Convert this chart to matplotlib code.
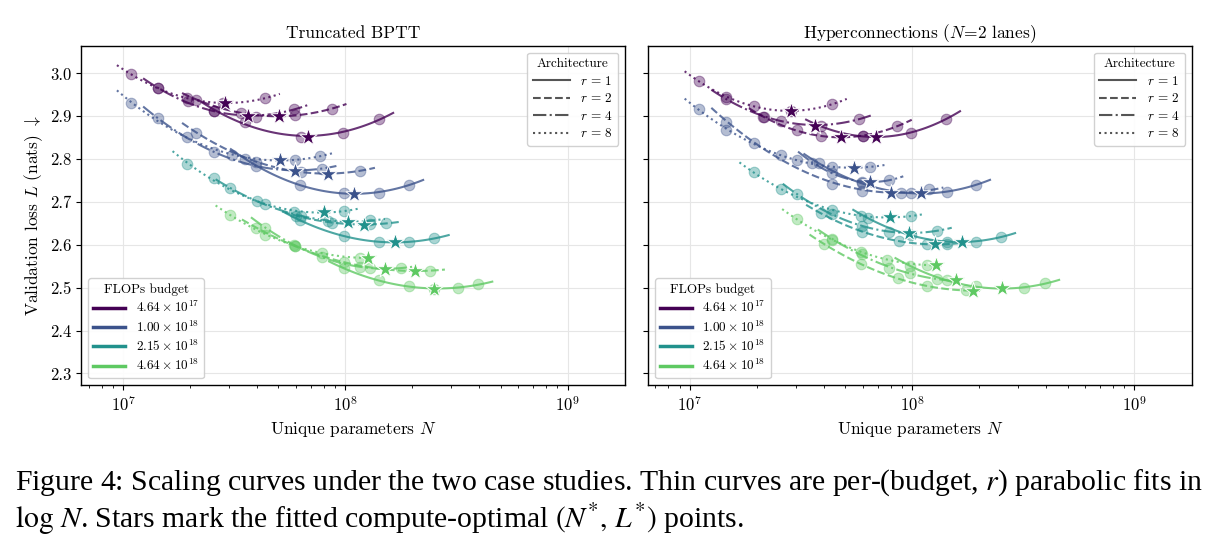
import numpy as np
import matplotlib
matplotlib.use("Agg")
import matplotlib.pyplot as plt
from matplotlib.lines import Line2D
from matplotlib.ticker import FormatStrFormatter

plt.rcParams['font.family'] = 'cmr10'
plt.rcParams['mathtext.fontset'] = 'cm'
plt.rcParams['axes.formatter.use_mathtext'] = True
plt.rcParams['axes.linewidth'] = 1.0

# DATA (N in millions of unique parameters, L = validation loss in nats)
budgets = ["$4.64\\times10^{17}$", "$1.00\\times10^{18}$", "$2.15\\times10^{18}$", "$4.64\\times10^{18}$"]
colors = ["#440154", "#3b528b", "#21918c", "#5ec962"]
r_values = [1, 2, 4, 8]
styles = ['-', '--', '-.', ':']

# Truncated BPTT: one list per budget
bptt_N_r1 = [[25.7, 35.5, 63.1, 97.7, 141.3], [35.5, 62.7, 98.2, 141.3, 192.8],
             [62.7, 98.2, 141.3, 192.8, 251.2], [98.2, 141.3, 192.8, 251.2, 320.6, 394.5]]
bptt_L_r1 = [[2.912, 2.887, 2.852, 2.862, 2.893], [2.800, 2.740, 2.720, 2.722, 2.740],
             [2.657, 2.621, 2.607, 2.607, 2.615], [2.545, 2.518, 2.503, 2.498, 2.499, 2.508]]
bptt_N_r2 = [[21.4, 33.9, 59.6, 87.1], [21.4, 39.8, 63.1, 117.0],
             [60.3, 87.1, 129.7, 153.1], [39.8, 59.6, 98.2, 129.7, 241.5]]
bptt_L_r2 = [[2.939, 2.908, 2.902, 2.918], [2.862, 2.794, 2.770, 2.773],
             [2.668, 2.652, 2.648, 2.650], [2.640, 2.597, 2.560, 2.547, 2.540]]
bptt_N_r4 = [[14.3, 19.5, 25.7, 39.8, 58.5], [14.3, 25.6, 39.8, 78.5],
             [30.3, 43.7, 63.1, 83.2, 129.7], [43.7, 59.6, 78.5, 117.0, 177.8]]
bptt_L_r4 = [[2.965, 2.935, 2.912, 2.899, 2.917], [2.896, 2.817, 2.784, 2.778],
             [2.732, 2.696, 2.667, 2.656, 2.657], [2.640, 2.598, 2.572, 2.548, 2.546]]
bptt_N_r8 = [[10.9, 14.3, 19.4, 28.2, 43.7], [10.9, 19.4, 30.9, 59.6, 77.1],
             [19.4, 25.6, 40.0, 58.5, 98.2], [30.3, 43.7, 58.5, 78.5, 117.0]]
bptt_L_r8 = [[2.998, 2.965, 2.942, 2.932, 2.942], [2.932, 2.852, 2.810, 2.797, 2.808],
             [2.789, 2.755, 2.702, 2.677, 2.680], [2.670, 2.624, 2.600, 2.580, 2.570]]
# stars: per budget, for r = 1, 2, 4, 8
bptt_star_N = [[67.9, 50.1, 36.6, 28.8], [108.9, 83.2, 59.6, 50.9],
               [166.7, 121.1, 102.3, 80.4], [251.8, 206.5, 151.4, 126.2]]
bptt_star_L = [[2.852, 2.900, 2.900, 2.931], [2.719, 2.765, 2.772, 2.798],
               [2.606, 2.646, 2.654, 2.676], [2.497, 2.539, 2.544, 2.569]]

# Hyperconnections (N=2 lanes)
hyp_N_r1 = [[38.7, 60.3, 98.4, 141.3], [38.0, 59.7, 98.4, 142.9, 192.8],
            [63.1, 98.4, 143.9, 192.8, 250.0], [97.7, 143.9, 192.8, 318.4, 394.5]]
hyp_L_r1 = [[2.877, 2.853, 2.862, 2.893], [2.790, 2.744, 2.720, 2.724, 2.740],
            [2.662, 2.624, 2.607, 2.607, 2.619], [2.551, 2.517, 2.503, 2.500, 2.510]]
hyp_N_r2 = [[21.4, 30.2, 38.7, 60.3, 85.7], [14.5, 25.6, 43.7, 59.7, 88.7, 118.9],
            [38.7, 59.7, 87.1, 117.0, 143.9], [40.1, 59.0, 86.3, 117.0, 173.8]]
hyp_L_r2 = [[2.899, 2.867, 2.854, 2.855, 2.877], [2.886, 2.810, 2.741, 2.725, 2.721, 2.730],
            [2.674, 2.631, 2.609, 2.601, 2.602], [2.602, 2.555, 2.522, 2.503, 2.494]]
hyp_N_r4 = [[14.5, 21.5, 25.6, 57.5], [35.6, 43.7, 59.7, 78.5],
            [30.4, 43.7, 59.7, 78.5, 129.7], [43.7, 59.7, 78.5, 97.7, 129.7]]
hyp_L_r4 = [[2.941, 2.899, 2.890, 2.893], [2.792, 2.768, 2.747, 2.751],
            [2.718, 2.671, 2.644, 2.631, 2.633], [2.613, 2.578, 2.545, 2.535, 2.520]]
hyp_N_r8 = [[11.0, 14.5, 19.4, 28.4, 43.7], [11.0, 14.5, 19.4, 30.4, 43.7, 64.6],
            [19.4, 25.6, 43.7, 59.0, 98.4], [30.2, 43.7, 59.0, 77.3, 117.0]]
hyp_L_r8 = [[2.982, 2.945, 2.924, 2.913, 2.928], [2.916, 2.868, 2.838, 2.797, 2.782, 2.782],
            [2.769, 2.730, 2.682, 2.668, 2.667], [2.660, 2.612, 2.584, 2.565, 2.553]]
hyp_star_N = [[68.4, 47.6, 36.7, 28.4], [109.1, 80.0, 64.6, 54.7],
              [167.9, 126.8, 96.6, 79.1], [254.1, 188.4, 156.7, 128.2]]
hyp_star_L = [[2.852, 2.851, 2.878, 2.913], [2.720, 2.720, 2.746, 2.780],
              [2.606, 2.601, 2.628, 2.664], [2.499, 2.493, 2.518, 2.552]]

caption1 = "Figure 4: Scaling curves under the two case studies. Thin curves are per-(budget, $r$) parabolic fits in"
caption2 = "$\\log\\,N$. Stars mark the fitted compute-optimal $(N^{*},\\,L^{*})$ points."


def draw_panel(ax, Ns, Ls, star_N, star_L, title):
    for ri in range(4):
        for bi in range(4):
            c = colors[bi]
            n = np.array(Ns[ri][bi]) * 1e6
            l = np.array(Ls[ri][bi])
            x = np.log10(n)
            # parabolic fit in log N
            coef = np.polyfit(x, l, 2)
            xs = np.linspace(x.min() - 0.065, x.max() + 0.065, 100)
            ax.plot(10 ** xs, np.polyval(coef, xs), color=c, ls=styles[ri], lw=1.5,
                    alpha=0.8, zorder=3)
            ax.scatter(n, l, s=58, color=c, alpha=0.38, edgecolors=c, linewidths=0.8, zorder=2)
            ax.scatter([star_N[bi][ri] * 1e6], [star_L[bi][ri]], marker='*', s=170, color=c,
                       edgecolors='white', linewidths=0.7, zorder=5)
    ax.set_xscale('log')
    ax.set_xlim(10 ** 6.813, 10 ** 9.258)
    ax.set_ylim(2.273, 3.064)
    ax.set_yticks(np.arange(2.3, 3.01, 0.1))
    ax.yaxis.set_major_formatter(FormatStrFormatter('%.1f'))
    ax.grid(True, which='major', color='#e6e6e6', lw=0.8, zorder=0)
    ax.set_axisbelow(True)
    ax.tick_params(labelsize=12)
    ax.set_xlabel("Unique parameters $N$", fontsize=12.5)
    ax.set_title(title, fontsize=12.5)

    arch = [Line2D([], [], color='#555555', ls=s, lw=1.5) for s in styles]
    leg1 = ax.legend(arch, ["$r\\,=\\,%d$" % r for r in r_values], title="Architecture",
                     loc='upper right', fontsize=9.5, title_fontsize=9.5, handlelength=2.8,
                     borderpad=0.4, labelspacing=0.35, framealpha=0.9, edgecolor='#cccccc')
    ax.add_artist(leg1)
    flops = [Line2D([], [], color=c, lw=2.5) for c in colors]
    ax.legend(flops, budgets, title="FLOPs budget", loc='lower left', fontsize=9.5,
              title_fontsize=9.5, handlelength=2.4, borderpad=0.4, labelspacing=0.3,
              framealpha=0.9, edgecolor='#cccccc')


fig = plt.figure(figsize=(12.18, 5.58), dpi=100)
ax1 = fig.add_axes([0.0669, 0.310, 0.4462, 0.6076])
ax2 = fig.add_axes([0.5323, 0.310, 0.4462, 0.6076], sharey=ax1)

draw_panel(ax1, [bptt_N_r1, bptt_N_r2, bptt_N_r4, bptt_N_r8],
           [bptt_L_r1, bptt_L_r2, bptt_L_r4, bptt_L_r8], bptt_star_N, bptt_star_L, "Truncated BPTT")
draw_panel(ax2, [hyp_N_r1, hyp_N_r2, hyp_N_r4, hyp_N_r8],
           [hyp_L_r1, hyp_L_r2, hyp_L_r4, hyp_L_r8], hyp_star_N, hyp_star_L,
           "Hyperconnections ($N$=2 lanes)")
ax1.set_ylabel("Validation loss $L$ (nats) $\\downarrow$", fontsize=12.5)
ax2.tick_params(labelleft=False)

fig.text(0.012, 0.122, caption1, fontsize=21.4, family='Liberation Serif', math_fontfamily='stix')
fig.text(0.012, 0.054, caption2, fontsize=21.4, family='Liberation Serif', math_fontfamily='stix')

fig.savefig("out.png", dpi=100)
